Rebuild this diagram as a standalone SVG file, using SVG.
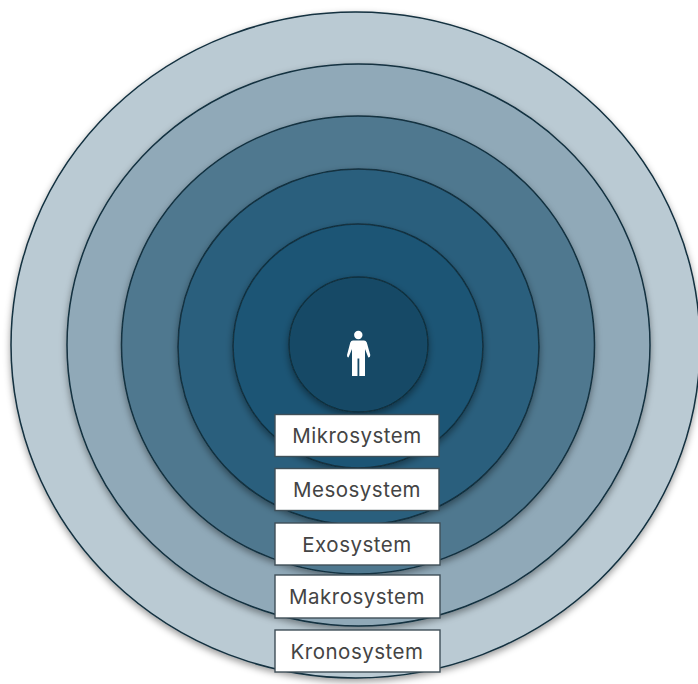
<svg xmlns="http://www.w3.org/2000/svg" width="698" height="684" viewBox="0 0 698 684">
<defs>
<filter id="sh" x="-10%" y="-10%" width="120%" height="120%"><feDropShadow dx="0" dy="3" stdDeviation="3.500" flood-color="#000" flood-opacity="0.4"/></filter>
</defs>
<style>
.ring{stroke:#12303f;stroke-width:1.5;filter:url(#sh)}
.box{fill:#fff;stroke:#3f4f58;stroke-width:1.4}
.lbl{font-family:"Inter","Noto Sans","Liberation Sans",sans-serif;font-size:20.5px;letter-spacing:0.5px;fill:#444;text-anchor:middle;dominant-baseline:central}
</style>
<rect width="698" height="684" fill="#fff"/>
<g id="ring-kronosystem"><ellipse class="ring" cx="355.500" cy="345" rx="344.500" ry="333" fill="#bacad3"/></g>
<g id="ring-makrosystem"><ellipse class="ring" cx="358.500" cy="345" rx="291.500" ry="281" fill="#90a9b8"/></g>
<g id="ring-exosystem"><ellipse class="ring" cx="358" cy="345" rx="236.500" ry="229" fill="#50788f"/></g>
<g id="ring-mesosystem"><ellipse class="ring" cx="358.500" cy="347" rx="180.500" ry="178" fill="#2b5f7d"/></g>
<g id="ring-mikrosystem"><ellipse class="ring" cx="358" cy="346" rx="125" ry="122" fill="#1a5474"/></g>
<g id="ring-center"><ellipse class="ring" cx="358.500" cy="344.500" rx="69.500" ry="67.500" fill="#134a66"/></g>
<g id="person" fill="#fff">
<circle cx="358.300" cy="335" r="4.200"/>
<path d="M353 340.500H364Q366 340.500 366.800 342.500L370.300 355Q370.300 357.500 368.300 357.500L365 349V376H359.300V358.500H357.500V376H352V349L348.500 357.500Q347 357.500 347 355L350.300 342.500Q351 340.500 353 340.500Z"/>
</g>
<g id="box-mikrosystem"><rect class="box" x="275" y="414.500" width="164" height="42"/><text class="lbl" x="357" y="435.500">Mikrosystem</text></g>
<g id="box-mesosystem"><rect class="box" x="275" y="468.500" width="164" height="42"/><text class="lbl" x="357" y="489.500">Mesosystem</text></g>
<g id="box-exosystem"><rect class="box" x="275" y="523" width="165" height="42"/><text class="lbl" x="357" y="544">Exosystem</text></g>
<g id="box-makrosystem"><rect class="box" x="275" y="575" width="165" height="43"/><text class="lbl" x="357" y="596.500">Makrosystem</text></g>
<g id="box-kronosystem"><rect class="box" x="275" y="630" width="165" height="42"/><text class="lbl" x="357" y="651">Kronosystem</text></g>
</svg>
